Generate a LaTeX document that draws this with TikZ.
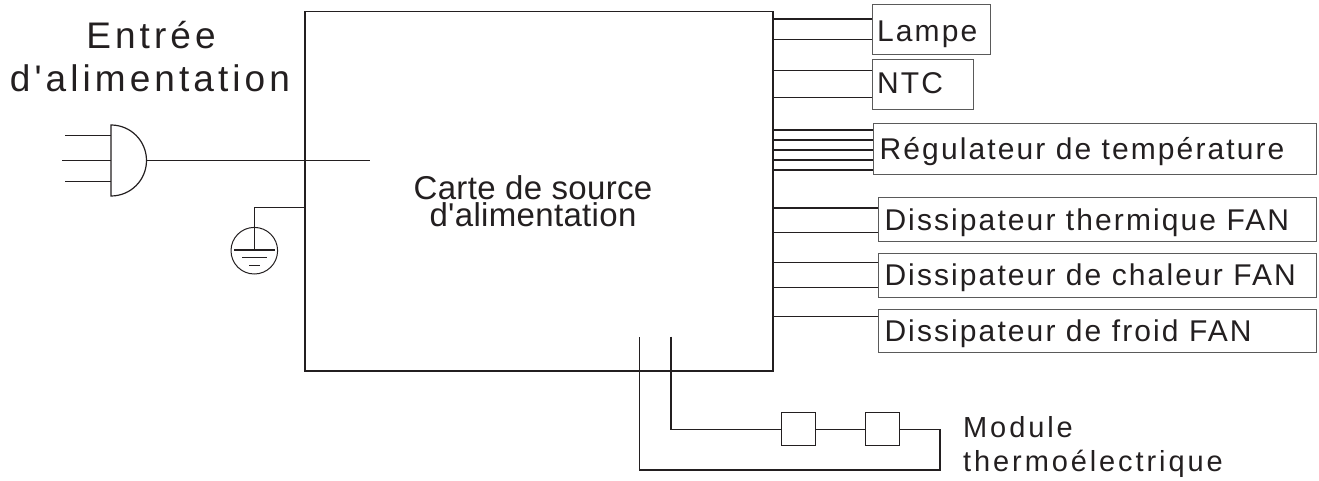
\documentclass[tikz,border=0pt]{standalone}
\usepackage{fontspec}
\setmainfont{Liberation Sans}
\newfontfamily\lblfont[LetterSpace=7]{Liberation Sans}
\newfontfamily\modfont[LetterSpace=10]{Liberation Sans}
\newfontfamily\bigfont[LetterSpace=11]{Liberation Sans}
\newfontfamily\brdfont[LetterSpace=1]{Liberation Sans}
\definecolor{ink}{HTML}{231F20}
\definecolor{boxc}{HTML}{5A5A5A}
\tikzset{
  wire/.style={draw=ink, line width=1.2pt},
  lbox/.style={draw=boxc, line width=1pt, rectangle, inner sep=0pt},
  lbl/.style={text=ink, inner sep=0pt, anchor=base west, font=\lblfont\fontsize{30}{30}\selectfont},
  bigtxt/.style={text=ink, inner sep=0pt, anchor=base, font=\bigfont\fontsize{37}{37}\selectfont},
  brdtxt/.style={text=ink, inner sep=0pt, anchor=base, font=\brdfont\fontsize{33}{33}\selectfont},
  modtxt/.style={text=ink, inner sep=0pt, anchor=base west, font=\modfont\fontsize{29}{29}\selectfont},
  module/.style={draw=ink, line width=1pt, rectangle, inner sep=0pt, minimum width=34pt, minimum height=33.3pt}
}
\begin{document}
\begin{tikzpicture}[x=1pt,y=-1pt]
\useasboundingbox (0,0) rectangle (1319,481);

% main board
\node[draw=ink, line width=1.2pt, rectangle, inner sep=0pt, minimum width=468pt, minimum height=359.3pt] (board) at (539,191.35) {};
\node[brdtxt, text depth=0pt] (brd1) at (533,199.3) {Carte de source};
\node[brdtxt, text height=23pt] (brd2) at (533,226.5) {d'alimentation};

% power input text
\node[bigtxt] (in1) at (151,48.3) {Entrée};
\node[bigtxt] (in2) at (150,91.7) {d'alimentation};

% plug
\draw[wire] (111,125) arc[start angle=-90, end angle=90, radius=35.5] -- cycle;
\coordinate (plugE) at (146.5,160.5);
\coordinate (plugW) at (111,160.5);
\coordinate (plugend) at (370,160.5);
\draw[wire] (65,135.7) -- (111,135.7);
\draw[wire] (62,160.5) -- (plugW);
\draw[wire] (65,181.7) -- (111,181.7);
\draw[wire] (plugE) -- (plugend);

% ground
\node[draw=ink, line width=1pt, circle, inner sep=0pt, minimum size=46.6pt] (gnd) at (254.3,250.7) {};
\draw[wire] (board.west |- 0,207.7) -- (gnd.north |- 0,207.7) -- (gnd.north);
\draw[wire] (gnd.north) -- (254.3,250);
\draw[wire] (234,250) -- (274.5,250);
\draw[wire] (242,257.7) -- (267,257.7);
\draw[wire] (249,265.7) -- (260,265.7);

% right boxes
\node[lbox, minimum width=118pt, minimum height=49.6pt] (lampe) at (931.7,29.5) {};
\node[lbl] (lampet) at (877,41.7) {Lampe};
\node[lbox, minimum width=100.6pt, minimum height=49.3pt] (ntc) at (923,84.65) {};
\node[lbl] (ntct) at (877,93.3) {NTC};
\node[lbox, minimum width=442.7pt, minimum height=51pt] (reg) at (1094.65,149.5) {};
\node[lbl] (regt) at (879.5,159.8) {Régulateur de température};
\node[lbox, minimum width=437.7pt, minimum height=44.4pt] (fan1) at (1097.15,219.5) {};
\node[lbl] (fan1t) at (884.3,230.7) {Dissipateur thermique FAN};
\node[lbox, minimum width=437.7pt, minimum height=44pt] (fan2) at (1097.15,275.3) {};
\node[lbl] (fan2t) at (884.3,285.7) {Dissipateur de chaleur FAN};
\node[lbox, minimum width=437.7pt, minimum height=43.7pt] (fan3) at (1097.15,330.85) {};
\node[lbl] (fan3t) at (884.3,341) {Dissipateur de froid FAN};

% right connectors
\foreach \yy/\nn in {19/lampe, 39.3/lampe, 70.3/ntc, 97.3/ntc, 130/reg, 140/reg, 150/reg, 160/reg, 170/reg, 208/fan1, 232.7/fan1, 262.3/fan2, 287.7/fan2, 316.7/fan3}
  \draw[wire] (board.east |- 0,\yy) -- (\nn.west |- 0,\yy);

% thermoelectric modules
\coordinate (t1) at (639.3,336.7);
\coordinate (t2) at (671,336.7);
\node[module] (m1) at (798.7,429.3) {};
\node[module] (m2) at (882.7,429.3) {};
\coordinate (mr) at (940,429.3);
\coordinate (mb) at (940,470);
\draw[wire] (t2) -- (t2 |- m1.west) -- (m1.west);
\draw[wire] (m1.east) -- (m2.west);
\draw[wire] (m2.east) -- (mr) -- (mb) -- (t1 |- mb) -- (t1);
\node[modtxt] (modt1) at (963,437.3) {Module};
\node[modtxt] (modt2) at (963,471.7) {thermoélectrique};
\end{tikzpicture}
\end{document}
